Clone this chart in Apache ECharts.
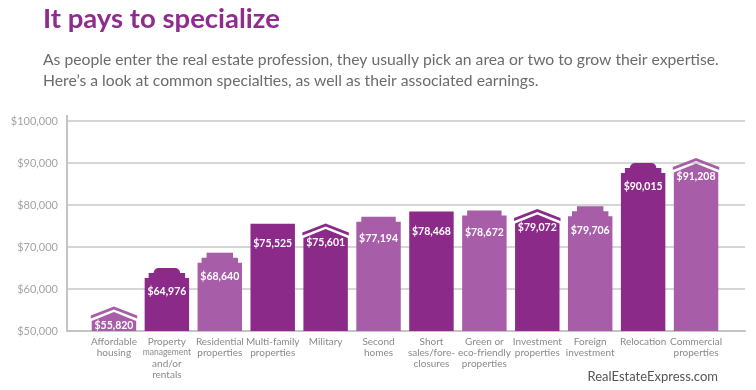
<!DOCTYPE html>
<html>
<head>
<meta charset="utf-8">
<script src="https://cdn.jsdelivr.net/npm/echarts@6/dist/echarts.min.js"></script>
<style>
html,body{margin:0;padding:0;background:#fff;}
#chart{width:756px;height:390px;}
</style>
</head>
<body>
<div id="chart"></div>
<script>
const categories = [
  'Affordable\nhousing',
  'Property\n{s|management}\nand/or\nrentals',
  'Residential\nproperties',
  'Multi-family\nproperties',
  'Military',
  'Second\nhomes',
  'Short\nsales/fore-\nclosures',
  'Green or\neco-friendly\nproperties',
  'Investment\nproperties',
  'Foreign\ninvestment',
  'Relocation',
  'Commercial\nproperties'
];
const values = [55820, 64976, 68640, 75525, 75601, 77194, 78468, 78672, 79072, 79706, 90015, 91208];
const yTickLabels = ['$50,000', '$60,000', '$70,000', '$80,000', '$90,000', '$100,000'];
const shapes = ['roof','dome','step','flat','roof','step1','flat','step1','roof','step','dome','roof'];
const tones = ['light','dark','light','dark','dark','light','dark','light','dark','light','dark','light'];

const COLORS = { dark: '#8B2A89', light: '#A75DA7' };
const FONT = 'Lato, "Open Sans", sans-serif';

function renderItem(params, api) {
  const i = api.value(0), v = api.value(1);
  const top = api.coord([i, v]);
  const base = api.coord([i, 50000]);
  const w = api.size([1, 0])[0] * 0.84;
  const cx = top[0], x0 = cx - w / 2, x1 = cx + w / 2, yT = top[1], yB = base[1];
  const fill = COLORS[tones[i]];
  const shape = shapes[i];
  const children = [];
  let labelOff = 20;
  if (shape === 'flat') {
    children.push({ type: 'rect', shape: { x: x0, y: yT, width: w, height: yB - yT }, style: { fill } });
    labelOff = 20;
  } else if (shape === 'roof') {
    const rh = 9;
    children.push({ type: 'polygon', shape: { points: [
      [x0 - 1, yT + rh], [cx, yT], [x1 + 1, yT + rh], [x1 + 1, yT + rh + 3], [cx, yT + 3], [x0 - 1, yT + rh + 3]
    ] }, style: { fill } });
    children.push({ type: 'polygon', shape: { points: [
      [x0, yB], [x0, yT + rh + 5.5], [cx, yT + 5.5], [x1, yT + rh + 5.5], [x1, yB]
    ] }, style: { fill } });
    labelOff = 19;
  } else if (shape === 'dome') {
    children.push({ type: 'rect', shape: { x: x0, y: yT + 10, width: w, height: yB - yT - 10 }, style: { fill } });
    children.push({ type: 'rect', shape: { x: x0 + 4, y: yT + 5, width: w - 8, height: 6 }, style: { fill } });
    children.push({ type: 'rect', shape: { x: x0 + 9, y: yT, width: w - 18, height: 6, r: [5, 5, 0, 0] }, style: { fill } });
    labelOff = 24;
  } else if (shape === 'step') {
    children.push({ type: 'rect', shape: { x: x0, y: yT + 10, width: w, height: yB - yT - 10 }, style: { fill } });
    children.push({ type: 'rect', shape: { x: x0 + 4, y: yT + 5, width: w - 8, height: 6 }, style: { fill } });
    children.push({ type: 'rect', shape: { x: x0 + 9, y: yT, width: w - 18, height: 6 }, style: { fill } });
    labelOff = 24;
  } else if (shape === 'step1') {
    children.push({ type: 'rect', shape: { x: x0, y: yT + 5, width: w, height: yB - yT - 5 }, style: { fill } });
    children.push({ type: 'rect', shape: { x: x0 + 5, y: yT, width: w - 10, height: 6 }, style: { fill } });
    labelOff = 22;
  }
  children.push({
    type: 'text',
    style: {
      text: '$' + v.toLocaleString('en-US'),
      x: cx, y: yT + labelOff,
      align: 'center', verticalAlign: 'middle',
      fill: '#ffffff',
      font: 'bold 10.5px ' + FONT
    }
  });
  return { type: 'group', children };
}

const chart = echarts.init(document.getElementById('chart'), null, { renderer: 'canvas' });
chart.setOption({
  animation: false,
  backgroundColor: '#ffffff',
  textStyle: { fontFamily: FONT },
  graphic: [
    { type: 'text', left: 43, top: 5, style: { text: 'It pays to specialize', font: 'bold 27.5px ' + FONT, fill: '#8E2D8E' } },
    { type: 'text', left: 43, top: 49, style: {
      text: 'As people enter the real estate profession, they usually pick an area or two to grow their expertise.\nHere\u2019s a look at common specialties, as well as their associated earnings.',
      font: '15.7px ' + FONT, fill: '#6b6b6b', lineHeight: 21 } },
    { type: 'text', right: 38, top: 370, style: { text: 'RealEstateExpress.com', font: '13px ' + FONT, fill: '#555555' } },
    { type: 'line', shape: { x1: 67, y1: 115, x2: 67, y2: 122 }, style: { stroke: '#c4c4c4', lineWidth: 2 } }
  ],
  grid: [
    { left: 67, right: 11, top: 121, bottom: 59 },
    { left: 87.5, right: 33.5, top: 121, bottom: 59 }
  ],
  xAxis: [
    { gridIndex: 0, type: 'value', min: 0, max: 1, axisLabel: { show: false }, axisTick: { show: false },
      splitLine: { show: false }, axisLine: { show: true, lineStyle: { color: '#c4c4c4', width: 2 } } },
    { gridIndex: 1, type: 'category', data: categories,
      axisLine: { show: false }, axisTick: { show: false },
      axisLabel: { interval: 0, color: '#8a8a8a', fontSize: 10, lineHeight: 11, margin: 5,
        rich: { s: { fontSize: 8.5, color: '#8a8a8a', lineHeight: 11 } } } }
  ],
  yAxis: [
    { gridIndex: 0, type: 'value', min: 50000, max: 100000, interval: 10000,
      axisLine: { show: true, lineStyle: { color: '#c4c4c4', width: 2 } },
      axisTick: { show: false },
      splitLine: { show: true, lineStyle: { color: '#c8c8c8', width: 1.5 } },
      axisLabel: { color: '#a3a3a3', fontSize: 11, margin: 9,
        formatter: function (val) { return yTickLabels[Math.round((val - 50000) / 10000)]; } } },
    { gridIndex: 1, type: 'value', min: 50000, max: 100000, show: false }
  ],
  series: [{
    type: 'custom',
    xAxisIndex: 1, yAxisIndex: 1,
    renderItem: renderItem,
    data: values.map((v, i) => [i, v])
  }]
});
</script>
</body>
</html>
